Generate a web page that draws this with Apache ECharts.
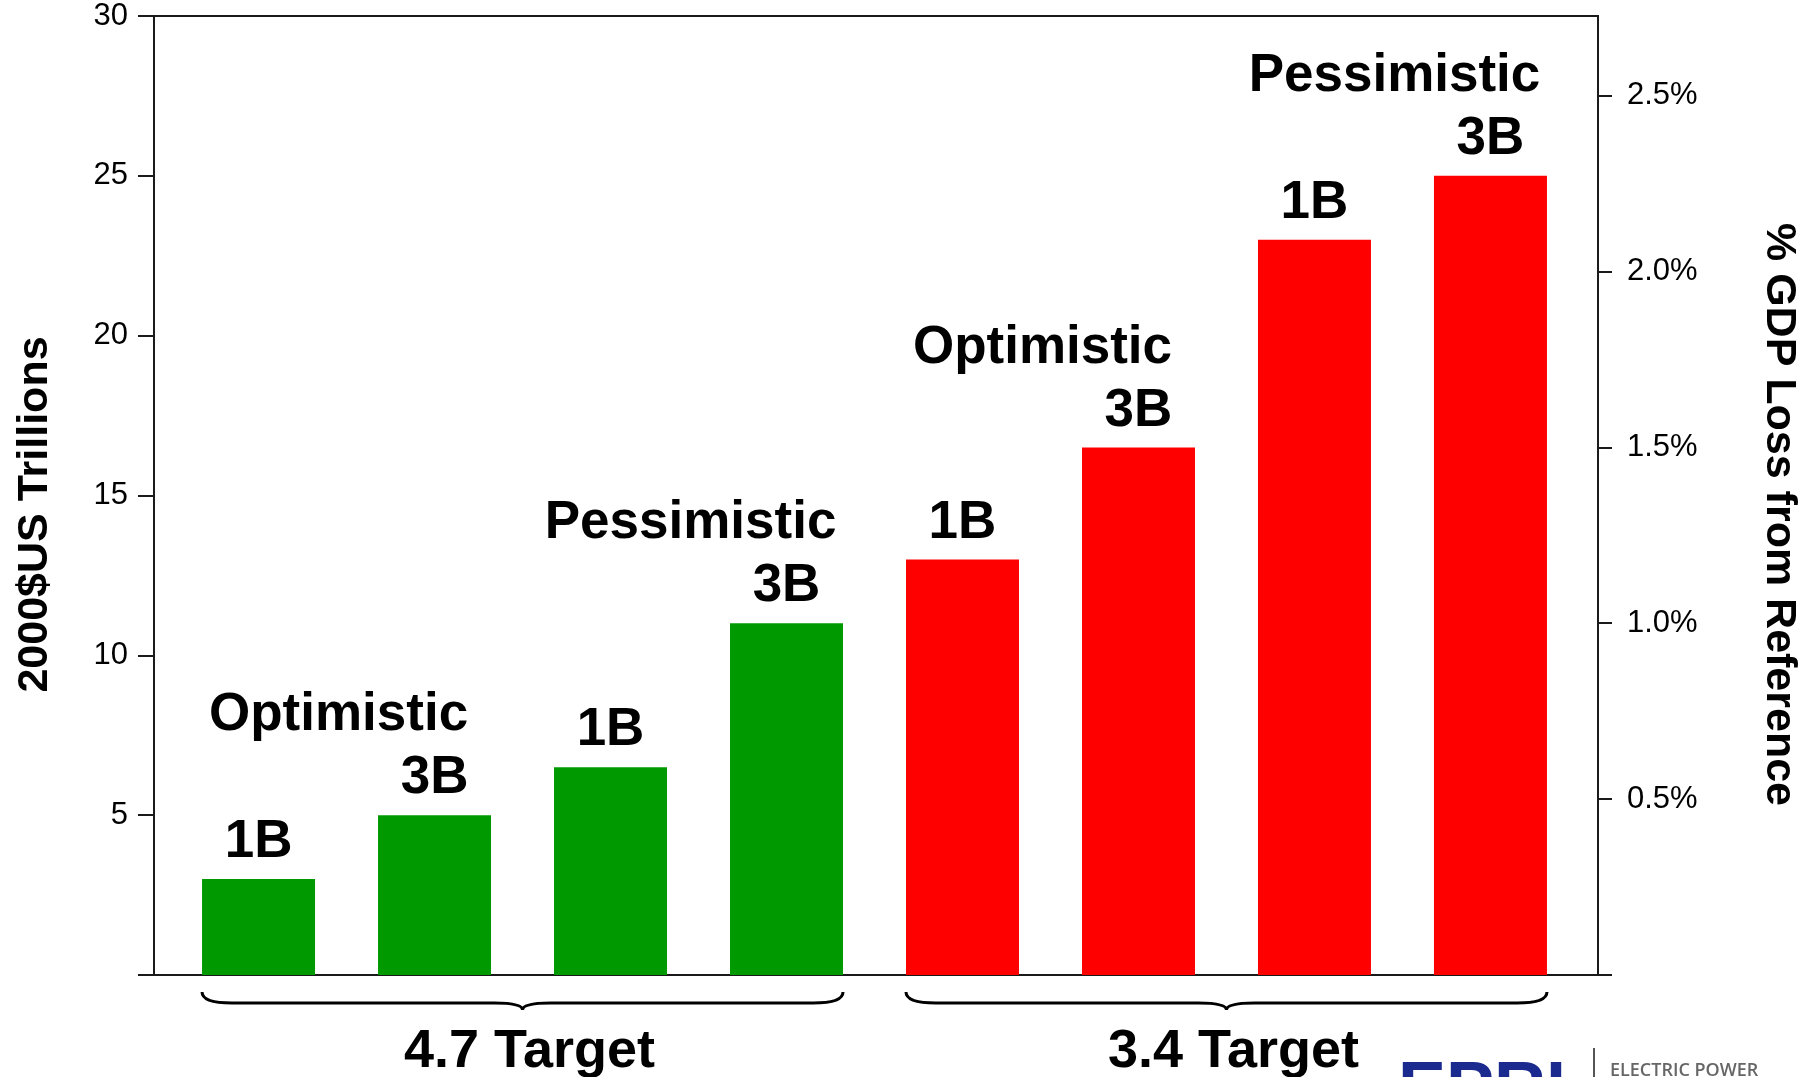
<!DOCTYPE html>
<html>
<head>
<meta charset="utf-8">
<script src="https://cdn.jsdelivr.net/npm/echarts@6.0.0/dist/echarts.min.js"></script>
<style>
  html, body { margin: 0; padding: 0; background: #fff; }
  #chart { width: 1816px; height: 1077px; }
</style>
</head>
<body>
<div id="chart"></div>
<script>
  // data
  const targets = ['4.7 Target', '3.4 Target']
  const scenarios = ['Optimistic', 'Pessimistic', 'Optimistic', 'Pessimistic']
  const barLabels = ['1B', '3B', '1B', '3B', '1B', '3B', '1B', '3B']
  const costTrillions = [3, 5, 6.5, 11, 13, 16.5, 23, 25]
  const leftTicks = [0, 5, 10, 15, 20, 25, 30]
  const rightTicks = [0, 0.5, 1.0, 1.5, 2.0, 2.5]
  const gdpMax = 2.726 // right axis top, same height as 30 on the left

  const groupColors = ['#009900', '#ff0000']
  const FONT = '"Liberation Sans", Arial, sans-serif'
  const BAR_W = 113

  const myChart = echarts.init(document.getElementById('chart'))

  const option = {
    animation: false,
    backgroundColor: '#fff',
    grid: {
      left: 154,
      right: 218,
      top: 16,
      bottom: 102,
      show: true,
      borderColor: '#1a1a1a',
      borderWidth: 2,
    },
    xAxis: {
      type: 'value',
      min: -0.594,
      max: 7.611,
      show: false,
    },
    yAxis: [
      {
        type: 'value',
        min: 0,
        max: 30,
        interval: 5,
        name: '2000$US Trillions',
        nameLocation: 'middle',
        nameGap: 97,
        nameTextStyle: {
          fontFamily: FONT,
          fontSize: 43,
          fontWeight: 'bold',
          color: '#000',
          padding: [0, 38, 0, 0],
        },
        axisLine: { show: true, onZero: false, lineStyle: { color: '#1a1a1a', width: 2 } },
        axisTick: {
          show: true,
          length: 16,
          customValues: leftTicks,
          lineStyle: { color: '#1a1a1a', width: 2 },
        },
        axisLabel: {
          customValues: leftTicks.filter(v => v > 0),
          margin: 26,
          fontFamily: FONT,
          fontSize: 31,
          color: '#000',
          padding: [4, 0, 0, 0],
        },
        splitLine: { show: false },
      },
      {
        type: 'value',
        position: 'right',
        min: 0,
        max: gdpMax,
        name: '% GDP Loss from Reference',
        nameLocation: 'middle',
        nameRotate: -90,
        nameGap: 159,
        nameTextStyle: {
          fontFamily: FONT,
          fontSize: 43,
          fontWeight: 'bold',
          color: '#000',
          padding: [0, 0, 0, 38],
        },
        axisLine: { show: true, onZero: false, lineStyle: { color: '#1a1a1a', width: 2 } },
        axisTick: {
          show: true,
          length: 14,
          customValues: rightTicks,
          lineStyle: { color: '#1a1a1a', width: 2 },
        },
        axisLabel: {
          customValues: rightTicks.filter(v => v > 0),
          formatter: v => v.toFixed(1) + '%',
          margin: 29,
          fontFamily: FONT,
          fontSize: 31,
          color: '#000',
          padding: [6, 0, 0, 0],
        },
        splitLine: { show: false },
      },
    ],
    series: [
      {
        name: 'cost',
        type: 'bar',
        barWidth: BAR_W,
        data: costTrillions.map((v, i) => ({
          value: [i, v],
          itemStyle: { color: groupColors[Math.floor(i / 4)] },
        })),
        label: {
          show: true,
          position: 'top',
          distance: 10,
          formatter: p => barLabels[p.dataIndex],
          fontFamily: FONT,
          fontSize: 53,
          fontWeight: 'bold',
          color: '#000',
        },
      },
      {
        // scenario name sits over each pair of bars
        name: 'scenario',
        type: 'scatter',
        symbolSize: 0,
        itemStyle: { opacity: 1 },
        data: scenarios.map((s, k) => [2 * k + 0.5, costTrillions[2 * k + 1]]),
        label: {
          show: true,
          position: 'top',
          distance: 73,
          offset: [-8, 0],
          formatter: p => scenarios[p.dataIndex],
          fontFamily: FONT,
          fontSize: 53,
          fontWeight: 'bold',
          color: '#000',
          opacity: 1,
        },
      },
      {
        // brace + target name under each group
        name: 'target',
        type: 'custom',
        data: targets.map((t, g) => [g * 4, g * 4 + 3]),
        renderItem: function (params, api) {
          const s = api.coord([api.value(0), 0])
          const e = api.coord([api.value(1), 0])
          const x0 = s[0] - BAR_W / 2
          const x1 = e[0] + BAR_W / 2
          const xm = (x0 + x1) / 2
          const y0 = s[1] + 17
          const y1 = s[1] + 28
          const y2 = s[1] + 35
          const d = 'M' + x0 + ' ' + y0 +
            ' Q' + x0 + ' ' + y1 + ' ' + (x0 + 30) + ' ' + y1 +
            ' L' + (xm - 28) + ' ' + y1 +
            ' Q' + xm + ' ' + y1 + ' ' + xm + ' ' + y2 +
            ' Q' + xm + ' ' + y1 + ' ' + (xm + 28) + ' ' + y1 +
            ' L' + (x1 - 30) + ' ' + y1 +
            ' Q' + x1 + ' ' + y1 + ' ' + x1 + ' ' + y0
          return {
            type: 'group',
            children: [
              {
                type: 'path',
                shape: { pathData: d },
                style: { fill: null, stroke: '#000', lineWidth: 3 },
              },
              {
                type: 'text',
                x: xm + 7,
                y: s[1] + 50,
                style: {
                  text: targets[params.dataIndex],
                  fontFamily: FONT,
                  fontSize: 54,
                  fontWeight: 'bold',
                  fill: '#000',
                  align: 'center',
                  verticalAlign: 'top',
                },
              },
            ],
          }
        },
      },
    ],
    graphic: [
      {
        type: 'text',
        x: 1398,
        y: 1056,
        style: {
          text: 'EPRI',
          fontFamily: FONT,
          fontSize: 72,
          fontWeight: 'bold',
          fill: '#1b2a8f',
        },
      },
      {
        type: 'rect',
        shape: { x: 1593, y: 1048, width: 2, height: 29 },
        style: { fill: '#555' },
      },
      {
        type: 'text',
        x: 1610,
        y: 1062,
        style: {
          text: 'ELECTRIC POWER',
          fontFamily: '"Open Sans", sans-serif',
          fontSize: 18,
          fontWeight: 600,
          fill: '#666',
        },
      },
    ],
  }

  option && myChart.setOption(option)
</script>
</body>
</html>
